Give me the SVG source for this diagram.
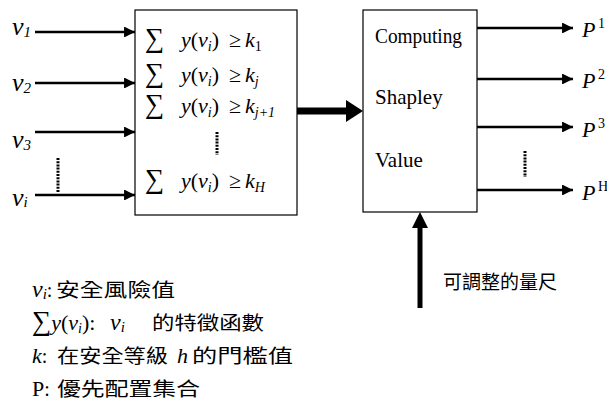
<svg xmlns="http://www.w3.org/2000/svg" width="607" height="405" viewBox="0 0 607 405">
<defs>
<marker id="ah" viewBox="0 0 10 10" refX="10" refY="5" markerWidth="4.2" markerHeight="4.2" markerUnits="strokeWidth" orient="auto">
<path d="M0,0 L10,5 L0,10 z" fill="#000"/>
</marker>
</defs>
<rect width="607" height="405" fill="#fff"/>

<g id="threshold-box" fill="#000">
<rect x="135" y="10" width="162" height="205" fill="#fff" stroke="#000" stroke-width="1.2"/>
<text style="font-family:'Liberation Serif',serif" font-size="22" y="47"><tspan x="145" font-size="27">∑</tspan><tspan x="181" font-style="italic">y</tspan><tspan>(</tspan><tspan font-style="italic">v</tspan><tspan font-style="italic" font-size="14" dy="4">i</tspan><tspan dy="-4">)</tspan><tspan x="229">≥</tspan><tspan x="245" font-style="italic">k</tspan><tspan font-size="14" dy="4">1</tspan></text>
<text style="font-family:'Liberation Serif',serif" font-size="22" y="82"><tspan x="145" font-size="27">∑</tspan><tspan x="181" font-style="italic">y</tspan><tspan>(</tspan><tspan font-style="italic">v</tspan><tspan font-style="italic" font-size="14" dy="4">i</tspan><tspan dy="-4">)</tspan><tspan x="229">≥</tspan><tspan x="245" font-style="italic">k</tspan><tspan font-style="italic" font-size="14" dy="4">j</tspan></text>
<text style="font-family:'Liberation Serif',serif" font-size="22" y="113"><tspan x="145" font-size="27">∑</tspan><tspan x="181" font-style="italic">y</tspan><tspan>(</tspan><tspan font-style="italic">v</tspan><tspan font-style="italic" font-size="14" dy="4">i</tspan><tspan dy="-4">)</tspan><tspan x="229">≥</tspan><tspan x="245" font-style="italic">k</tspan><tspan font-style="italic" font-size="14" dy="4">j+1</tspan></text>
<line x1="217" y1="132" x2="217" y2="155" stroke="#000" stroke-width="3" stroke-dasharray="2 1.2"/>
<text style="font-family:'Liberation Serif',serif" font-size="22" y="188"><tspan x="145" font-size="27">∑</tspan><tspan x="181" font-style="italic">y</tspan><tspan>(</tspan><tspan font-style="italic">v</tspan><tspan font-style="italic" font-size="14" dy="4">i</tspan><tspan dy="-4">)</tspan><tspan x="229">≥</tspan><tspan x="245" font-style="italic">k</tspan><tspan font-style="italic" font-size="14" dy="4">H</tspan></text>
</g>

<g id="shapley-box" fill="#000">
<rect x="363" y="10" width="114" height="202" fill="#fff" stroke="#000" stroke-width="1.2"/>
<text style="font-family:'Liberation Serif',serif" font-size="21" x="375" y="43" textLength="87" lengthAdjust="spacingAndGlyphs">Computing</text>
<text style="font-family:'Liberation Serif',serif" font-size="21" x="375" y="104">Shapley</text>
<text style="font-family:'Liberation Serif',serif" font-size="21" x="375" y="167">Value</text>
</g>

<g id="connectors" stroke="#000" fill="none">
<g stroke-width="2.6">
<line x1="35" y1="32" x2="135" y2="32" marker-end="url(#ah)"/>
<line x1="35" y1="83" x2="135" y2="83" marker-end="url(#ah)"/>
<line x1="35" y1="132" x2="135" y2="132" marker-end="url(#ah)"/>
<line x1="35" y1="195" x2="135" y2="195" marker-end="url(#ah)"/>
<line x1="477" y1="28" x2="573" y2="28" marker-end="url(#ah)"/>
<line x1="477" y1="79" x2="573" y2="79" marker-end="url(#ah)"/>
<line x1="477" y1="127" x2="573" y2="127" marker-end="url(#ah)"/>
<line x1="477" y1="190" x2="573" y2="190" marker-end="url(#ah)"/>
</g>
<g stroke-width="3" stroke-dasharray="2 1.2">
<line x1="58" y1="158" x2="58" y2="192"/>
<line x1="525" y1="151" x2="525" y2="177"/>
</g>
<line x1="297" y1="111" x2="348" y2="111" stroke-width="7"/>
<polygon points="346,100 363,111 346,122" fill="#000" stroke="none"/>
<line x1="420" y1="308" x2="420" y2="226" stroke-width="5"/>
<polygon points="412,228 420,212 428,228" fill="#000" stroke="none"/>
</g>

<g id="inputs" fill="#000">
<text style="font-family:'Liberation Serif',serif;font-style:italic" y="35" font-size="26"><tspan x="12">v</tspan><tspan font-size="15" dy="2">1</tspan></text>
<text style="font-family:'Liberation Serif',serif;font-style:italic" y="91" font-size="26"><tspan x="12">v</tspan><tspan font-size="15" dy="2">2</tspan></text>
<text style="font-family:'Liberation Serif',serif;font-style:italic" y="148" font-size="26"><tspan x="12">v</tspan><tspan font-size="15" dy="2">3</tspan></text>
<text style="font-family:'Liberation Serif',serif;font-style:italic" y="206" font-size="26"><tspan x="12">v</tspan><tspan font-size="15" dy="1">i</tspan></text>
</g>

<g id="outputs" fill="#000">
<text style="font-family:'Liberation Serif',serif" y="37"><tspan x="582" font-style="italic" font-size="22">P</tspan><tspan x="598" font-size="14" dy="-9">1</tspan></text>
<text style="font-family:'Liberation Serif',serif" y="88"><tspan x="582" font-style="italic" font-size="22">P</tspan><tspan x="598" font-size="14" dy="-9">2</tspan></text>
<text style="font-family:'Liberation Serif',serif" y="137"><tspan x="582" font-style="italic" font-size="22">P</tspan><tspan x="598" font-size="14" dy="-9">3</tspan></text>
<text style="font-family:'Liberation Serif',serif" y="200"><tspan x="582" font-style="italic" font-size="22">P</tspan><tspan x="598" font-size="14" dy="-9">H</tspan></text>
</g>

<g id="scale-label">
<text style="font-family:'Noto Sans CJK TC',sans-serif" fill="#000" font-size="19" x="443" y="289">可調整的量尺</text>
</g>

<g id="legend" fill="#000">
<text style="font-family:'Liberation Serif',serif" font-size="24" y="297"><tspan x="32" font-style="italic">v</tspan><tspan font-style="italic" font-size="15" dy="2">i</tspan><tspan font-size="20" dy="-2">:</tspan></text>
<text style="font-family:'Liberation Serif',serif" font-size="22" y="330"><tspan x="32" font-size="27">∑</tspan><tspan font-style="italic">y</tspan><tspan>(</tspan><tspan font-style="italic">v</tspan><tspan font-style="italic" font-size="14" dy="3">i</tspan><tspan dy="-3">):</tspan><tspan x="110" font-style="italic" font-size="24">v</tspan><tspan font-style="italic" font-size="15" dy="2">i</tspan></text>
<text style="font-family:'Liberation Serif',serif" font-size="22" y="363"><tspan x="32" font-style="italic">k</tspan><tspan font-size="20">:</tspan><tspan x="177" font-style="italic">h</tspan></text>
<text style="font-family:'Liberation Serif',serif" font-size="22" y="396"><tspan x="32">P</tspan><tspan font-size="20">:</tspan></text>
<text style="font-family:'Noto Sans CJK TC',sans-serif" font-size="19" x="56" y="297" textLength="119" lengthAdjust="spacingAndGlyphs">安全風險值</text>
<text style="font-family:'Noto Sans CJK TC',sans-serif" font-size="19" x="152" y="330" textLength="112" lengthAdjust="spacingAndGlyphs">的特徵函數</text>
<text style="font-family:'Noto Sans CJK TC',sans-serif" font-size="19" x="57" y="363" textLength="111" lengthAdjust="spacingAndGlyphs">在安全等級</text>
<text style="font-family:'Noto Sans CJK TC',sans-serif" font-size="19" x="192" y="363" textLength="101" lengthAdjust="spacingAndGlyphs">的門檻值</text>
<text style="font-family:'Noto Sans CJK TC',sans-serif" font-size="19" x="57" y="396" textLength="143" lengthAdjust="spacingAndGlyphs">優先配置集合</text>
</g>
</svg>
